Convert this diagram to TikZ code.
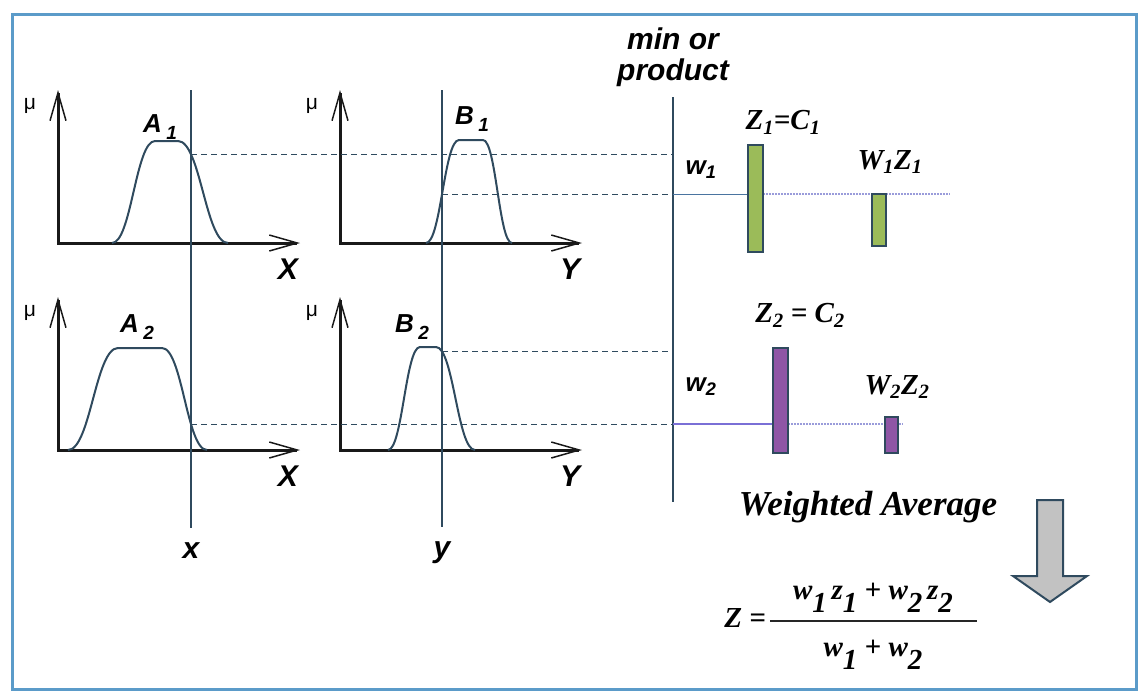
\documentclass[tikz,border=0pt]{standalone}
\usepackage{fontspec}
\setmainfont{Liberation Serif}
\setsansfont{Liberation Sans}
\usetikzlibrary{arrows.meta,intersections,positioning}

\definecolor{framecol}{HTML}{5B9BC9}
\definecolor{linecol}{HTML}{2F4A5E}
\definecolor{barGreen}{HTML}{9BBB59}
\definecolor{barPurple}{HTML}{8F56A6}
\definecolor{wline}{HTML}{4A74A0}
\definecolor{wlineB}{HTML}{7A6FD6}
\definecolor{wdots}{HTML}{9A9CDA}
\definecolor{arrowGrey}{HTML}{C2C2C2}

% lowered index, same look as the slide
\newcommand{\setidx}[1]{\,\raisebox{-0.3em}{\fontsize{19}{19}\selectfont #1}}
\newcommand{\lowidx}[1]{\raisebox{-0.45em}{#1}}

\tikzset{
  axis/.style={line width=3pt, black!90,
    {Straight Barb[length=28pt,width=16pt,line width=1.5pt]}-{Straight Barb[length=28pt,width=16pt,line width=1.5pt]}},
  mfcurve/.style={line width=2pt, linecol},
  cutline/.style={line width=1.4pt, linecol},
  level/.style={line width=1.2pt, linecol, dash pattern=on 6pt off 4pt},
  wsolid/.style={line width=1.4pt, #1},
  wdotted/.style={line width=2pt, wdots, dash pattern=on 2pt off 1pt},
  zbar/.style={draw=linecol, line width=1.2pt, inner sep=0pt},
  sanslab/.style={font=\sffamily\bfseries\itshape\fontsize{30}{31}\selectfont, inner sep=0pt},
  setlab/.style={font=\sffamily\bfseries\itshape\fontsize{26}{28}\selectfont, inner sep=0pt},
  mulab/.style={font=\sffamily\fontsize{21}{21}\selectfont, inner sep=0pt},
  timeslab/.style={font=\rmfamily\bfseries\itshape\fontsize{29}{31}\selectfont, inner sep=0pt},
}

\begin{document}
\begin{tikzpicture}[x=1pt, y=-1pt]
  \useasboundingbox (0,0) rectangle (1141,696);
  % Frame
  \draw[framecol, line width=3pt] (12,14) rectangle (1136,689);

  % Panels: name/origin x/origin y/axis label/feet and plateau/top
  \foreach \set/\ox/\oy/\axlab/\xa/\xb/\xc/\xd/\yt in
      {A1/58/243/X/112/155/178/228/141,
       B1/340/243/Y/426/459/483/512/140,
       A2/58/450/X/68/118/162/207/348,
       B2/340/450/Y/388/420/436/475/347}{
    \coordinate (\set o) at (\ox,\oy);
    \draw[axis] (\ox,\oy-153) -- (\set o) -- ++(242,0);
    \node[mulab] (\set mu) at (\ox-28,\oy-137) {μ};
    \node[sanslab] (\set ax) at (\ox+230,\oy+26) {\axlab};
    % Membership function
    \draw[mfcurve, name path global=\set curve]
      (\xa,\oy) .. controls ({\xa+0.45*(\xb-\xa)},\oy) and ({\xb-0.45*(\xb-\xa)},\yt) .. (\xb,\yt)
      -- (\xc,\yt) .. controls ({\xc+0.45*(\xd-\xc)},\yt) and ({\xd-0.45*(\xd-\xc)},\oy) .. (\xd,\oy);
  }

  % Set names
  \node[setlab] (A1name) at (160,127) {A\setidx{1}};
  \node[setlab] (B1name) at (472,119) {B\setidx{1}};
  \node[setlab] (A2name) at (137,327) {A\setidx{2}};
  \node[setlab] (B2name) at (412,327) {B\setidx{2}};

  % Crisp inputs
  \coordinate (xtop) at (191,90);
  \coordinate (xbot) at (191,528);
  \coordinate (ytop) at (442,90);
  \coordinate (ybot) at (442,527);
  \draw[cutline, name path=xcut] (xtop) -- (xbot);
  \draw[cutline, name path=ycut] (ytop) -- (ybot);
  \node[sanslab, below=14pt of xbot] (xval) {x};
  \node[sanslab, below=14pt of ybot] (yval) {y};

  \path[name intersections={of=xcut and A1curve, by=a1cut}];
  \path[name intersections={of=ycut and B1curve, by=b1cut}];
  \path[name intersections={of=xcut and A2curve, by=a2cut}];
  \path[name intersections={of=ycut and B2curve, by=b2cut}];

  % min or product
  \coordinate (mintop) at (673,97);
  \coordinate (minbot) at (673,502);
  \draw[cutline] (mintop) -- (minbot);
  \node[sanslab, align=center] (minlab) at (673,57) {min or\\product};

  \draw[level] (a1cut) -- (a1cut -| mintop);
  \draw[level] (b1cut) -- (b1cut -| mintop);
  \draw[level] (a2cut) -- (a2cut -| mintop);
  \draw[level] (b2cut) -- (b2cut -| mintop);

  \node[setlab] (w1lab) at (701,170) {w\textsubscript{1}};
  \node[setlab] (w2lab) at (701,387) {w\textsubscript{2}};

  % Consequents
  \coordinate (w1end) at (b1cut -| 950,0);
  \coordinate (w2end) at (a2cut -| 903,0);
  \draw[wsolid=wline] (b1cut -| mintop) -- (b1cut -| 748,0);
  \draw[wdotted] (b1cut -| 748,0) -- (w1end);
  \draw[wsolid=wlineB] (a2cut -| mintop) -- (a2cut -| 773,0);
  \draw[wdotted] (a2cut -| 773,0) -- (w2end);

  \node[zbar, fill=barGreen, minimum width=15pt, minimum height=107pt] (z1bar) at (755.5,198.5) {};
  \node[zbar, fill=barGreen, minimum width=14pt, minimum height=52pt] (w1bar) at (879,220) {};
  \node[zbar, fill=barPurple, minimum width=15pt, minimum height=105pt] (z2bar) at (780.5,400.5) {};
  \node[zbar, fill=barPurple, minimum width=13pt, minimum height=36pt] (w2bar) at (891.5,435) {};

  \node[timeslab] (z1lab) at (783,122) {Z\textsubscript{1}=C\textsubscript{1}};
  \node[timeslab] (w1z1lab) at (890,162) {W\textsubscript{1}Z\textsubscript{1}};
  \node[timeslab] (z2lab) at (800,315) {Z\textsubscript{2} = C\textsubscript{2}};
  \node[timeslab] (w2z2lab) at (897,387) {W\textsubscript{2}Z\textsubscript{2}};

  % Weighted average
  \node[timeslab, font=\rmfamily\bfseries\itshape\fontsize{35}{37}\selectfont] (avglab) at (868,507) {Weighted Average};
  \draw[linecol, line width=2pt, fill=arrowGrey]
    (1037,500) -- (1063,500) -- (1063,576) -- (1087,576) -- (1050,602)
    -- (1013,576) -- (1037,576) -- cycle;

  \node[timeslab, anchor=base east] (zeq) at (766,627) {Z =};
  \node[timeslab] (numer) at (873,598) {w\lowidx{1}\,z\lowidx{1} + w\lowidx{2}\,z\lowidx{2}};
  \node[timeslab] (denom) at (873,655) {w\lowidx{1} + w\lowidx{2}};
  \draw[black!85, line width=2pt] (770,621) -- (977,621);
\end{tikzpicture}
\end{document}
